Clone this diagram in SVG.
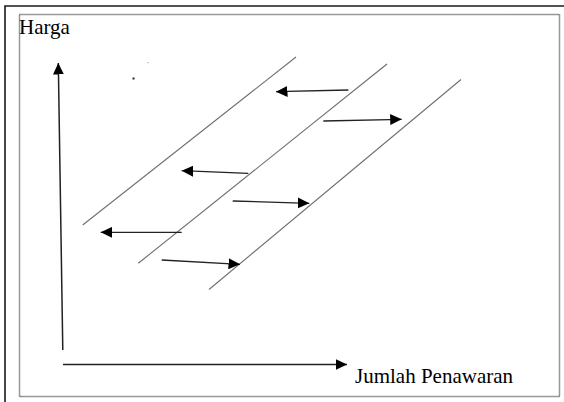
<svg xmlns="http://www.w3.org/2000/svg" width="564" height="402" viewBox="0 0 564 402">
<style>
  .frame { fill: none; stroke: #1a1a1a; stroke-width: 1.6; }
  .dotted { fill: none; stroke: #333; stroke-width: 1.5; stroke-dasharray: 1 1; }
  .curve { fill: none; stroke: #6e6e6e; stroke-width: 1.1; }
  .arr { fill: none; stroke: #222; stroke-width: 1.3; marker-end: url(#head); }
  .axis { fill: none; stroke: #222; stroke-width: 1.5; marker-end: url(#head); }
  .lbl { font-family: "Liberation Serif", "Times New Roman", serif; font-size: 21px; fill: #000; }
</style>
<defs>
  <marker id="head" markerUnits="userSpaceOnUse" markerWidth="12" markerHeight="11" refX="11.5" refY="5.5" orient="auto">
    <path d="M0,0 L11.5,5.5 L0,11 z" fill="#000"/>
  </marker>
</defs>
<rect width="564" height="402" fill="#fff"/>
<g id="frame">
  <path class="frame" d="M5,402 V6 H564"/>
  <rect class="dotted" x="19.5" y="14.5" width="540" height="382"/>
</g>
<g id="label-harga"><text class="lbl" x="19" y="34">Harga</text></g>
<g id="label-jumlah"><text class="lbl" x="355" y="383">Jumlah Penawaran</text></g>
<g id="dots">
  <rect x="132.5" y="77.5" width="2" height="2" fill="#222"/>
  <rect x="147.5" y="62" width="1.2" height="1.2" fill="#aaa"/>
</g>
<g id="curves">
  <line class="curve" x1="82.7" y1="225" x2="296" y2="57"/>
  <line class="curve" x1="138.3" y1="263.3" x2="387" y2="64"/>
  <line class="curve" x1="209" y1="289.5" x2="461" y2="79.5"/>
</g>
<g id="connectors">
  <line class="axis" x1="62.8" y1="350" x2="58.3" y2="63"/>
  <line class="axis" x1="63" y1="364.5" x2="347" y2="364.5"/>
  <line class="arr" x1="348.3" y1="90" x2="276" y2="91.7"/>
  <line class="arr" x1="323.3" y1="121" x2="401.7" y2="119.3"/>
  <line class="arr" x1="248.3" y1="173.3" x2="181.7" y2="170.7"/>
  <line class="arr" x1="232.7" y1="201" x2="309.3" y2="203.3"/>
  <line class="arr" x1="181.7" y1="232.3" x2="100.7" y2="232.3"/>
  <line class="arr" x1="161.7" y1="260" x2="240" y2="264.3"/>
</g>
</svg>
